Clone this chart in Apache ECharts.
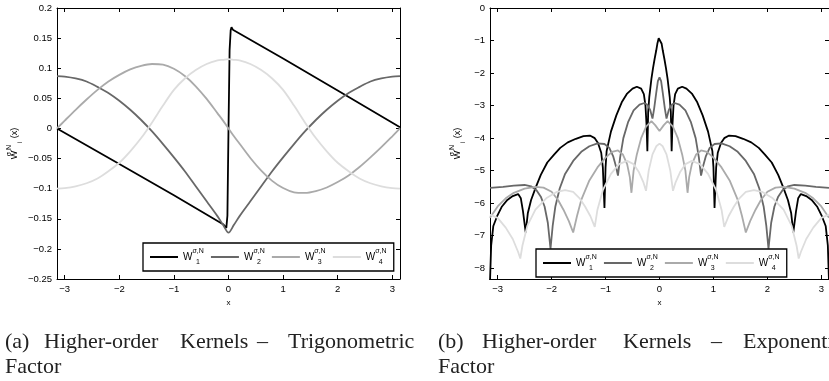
<!DOCTYPE html>
<html>
<head>
<meta charset="utf-8">
<script src="https://cdn.jsdelivr.net/npm/echarts@6/dist/echarts.min.js"></script>
<style>
  html, body { margin: 0; padding: 0; background: #fff; }
  #chart { width: 829px; height: 381px; }
</style>
</head>
<body>
<div id="chart"></div>
<script>
// ---- tick positions ----
const xTicks = [-3, -2, -1, 0, 1, 2, 3];
const trigYTicks = [-0.25, -0.2, -0.15, -0.1, -0.05, 0, 0.05, 0.1, 0.15, 0.2];
const expYTicks = [-8, -7, -6, -5, -4, -3, -2, -1, 0];

// ---- kernel indices shown in the legends ----
const kernelIds = ['1', '2', '3', '4'];

// ---- (a) trigonometric factor ----
const trigX = [-3.1416, -3.0, -2.8, -2.6, -2.4, -2.2, -2.0, -1.8, -1.6, -1.4, -1.2, -1.0, -0.8, -0.6, -0.4, -0.2, -0.1, 0,
               0.1, 0.2, 0.4, 0.6, 0.8, 1.0, 1.2, 1.4, 1.6, 1.8, 2.0, 2.2, 2.4, 2.6, 2.8, 3.0, 3.1416];
const trigW1 = [[-3.1416, 0], [-2.0, -0.059], [-1.0, -0.111], [-0.1, -0.159], [-0.04, -0.165], [-0.02, -0.145],
                [0, 0.0], [0.02, 0.13], [0.04, 0.163], [0.055, 0.168], [0.08, 0.164], [1.0, 0.116], [2.0, 0.063], [3.1416, 0.002]];
const trigW2 = [0.087, 0.086, 0.083, 0.078, 0.069, 0.059, 0.046, 0.031, 0.014, -0.005, -0.026, -0.048, -0.071, -0.096, -0.121, -0.146, -0.160, -0.173,
                -0.160, -0.146, -0.121, -0.096, -0.071, -0.048, -0.026, -0.005, 0.014, 0.031, 0.046, 0.059, 0.069, 0.078, 0.083, 0.086, 0.087];
const trigW3 = [0, 0.013, 0.031, 0.048, 0.064, 0.078, 0.089, 0.098, 0.104, 0.107, 0.106, 0.099, 0.087, 0.070, 0.049, 0.025, 0.013, 0,
                -0.013, -0.025, -0.049, -0.070, -0.087, -0.099, -0.106, -0.107, -0.104, -0.098, -0.089, -0.078, -0.064, -0.048, -0.031, -0.013, 0];
const trigW4 = [-0.100, -0.099, -0.096, -0.091, -0.083, -0.071, -0.057, -0.038, -0.016, 0.010, 0.038, 0.064, 0.083, 0.097, 0.107, 0.113, 0.114, 0.115,
                0.114, 0.113, 0.107, 0.097, 0.083, 0.064, 0.038, 0.010, -0.016, -0.038, -0.057, -0.071, -0.083, -0.091, -0.096, -0.099, -0.100];

// ---- (b) exponential factor (log scale values) ----
const expW1 = [
  [-3.1416, -8.4], [-3.12, -7.3], [-3.08, -6.7], [-3.01, -6.4], [-2.92, -6.1], [-2.82, -5.9], [-2.72, -5.78], [-2.62, -5.72],
  [-2.57, -5.85], [-2.53, -6.25], [-2.48, -6.9], [-2.44, -6.3], [-2.38, -5.9], [-2.29, -5.5], [-2.2, -5.13], [-2.08, -4.75],
  [-1.95, -4.5], [-1.84, -4.3], [-1.7, -4.13], [-1.55, -4.02], [-1.41, -3.94], [-1.29, -3.92], [-1.2, -4.0], [-1.14, -4.15],
  [-1.08, -4.45], [-1.05, -4.9], [-1.02, -6.15], [-1.0, -4.9], [-0.98, -4.4], [-0.9, -3.8], [-0.8, -3.3], [-0.7, -2.9],
  [-0.6, -2.63], [-0.5, -2.48], [-0.42, -2.42], [-0.34, -2.48], [-0.29, -2.65], [-0.26, -3.0], [-0.24, -3.6], [-0.225, -4.4],
  [-0.21, -3.2], [-0.19, -2.75], [-0.15, -2.18], [-0.12, -1.85], [-0.09, -1.56], [-0.06, -1.3], [-0.04, -1.1], [-0.015, -0.93],
  [0.015, -0.93], [0.04, -1.1], [0.06, -1.3], [0.09, -1.56], [0.12, -1.85], [0.15, -2.18], [0.19, -2.75], [0.21, -3.2],
  [0.225, -4.4], [0.24, -3.6], [0.26, -3.0], [0.29, -2.65], [0.34, -2.48], [0.42, -2.42], [0.5, -2.48], [0.6, -2.63],
  [0.7, -2.9], [0.8, -3.3], [0.9, -3.8], [0.98, -4.4], [1.0, -4.9], [1.02, -6.15], [1.05, -4.9], [1.08, -4.45],
  [1.14, -4.15], [1.2, -4.0], [1.29, -3.92], [1.41, -3.94], [1.55, -4.02], [1.7, -4.13], [1.84, -4.3], [1.95, -4.5],
  [2.08, -4.75], [2.2, -5.13], [2.29, -5.5], [2.38, -5.9], [2.44, -6.3], [2.48, -6.9], [2.53, -6.25], [2.57, -5.85],
  [2.62, -5.72], [2.72, -5.78], [2.82, -5.9], [2.92, -6.1], [3.01, -6.4], [3.08, -6.7], [3.12, -7.3], [3.1416, -8.4]
];
const expW2 = [
  [-3.1416, -5.53], [-2.9, -5.5], [-2.7, -5.46], [-2.5, -5.44], [-2.38, -5.48], [-2.28, -5.6], [-2.2, -5.8], [-2.13, -6.1],
  [-2.07, -6.6], [-2.02, -7.4], [-1.98, -6.7], [-1.93, -6.1], [-1.85, -5.55], [-1.75, -5.1], [-1.6, -4.7], [-1.45, -4.42],
  [-1.3, -4.25], [-1.15, -4.16], [-1.02, -4.18], [-0.93, -4.3], [-0.86, -4.55], [-0.81, -4.85], [-0.77, -5.15], [-0.73, -4.6],
  [-0.67, -4.0], [-0.58, -3.5], [-0.48, -3.15], [-0.37, -2.97], [-0.28, -2.92], [-0.22, -2.98], [-0.17, -3.15], [-0.13, -3.4],
  [-0.1, -3.1], [-0.06, -2.6], [-0.03, -2.25], [0, -2.13],
  [0.03, -2.25], [0.06, -2.6], [0.1, -3.1], [0.13, -3.4], [0.17, -3.15], [0.22, -2.98], [0.28, -2.92], [0.37, -2.97],
  [0.48, -3.15], [0.58, -3.5], [0.67, -4.0], [0.73, -4.6], [0.77, -5.15], [0.81, -4.85], [0.86, -4.55], [0.93, -4.3],
  [1.02, -4.18], [1.15, -4.16], [1.3, -4.25], [1.45, -4.42], [1.6, -4.7], [1.75, -5.1], [1.85, -5.55], [1.93, -6.1],
  [1.98, -6.7], [2.02, -7.4], [2.07, -6.6], [2.13, -6.1], [2.2, -5.8], [2.28, -5.6], [2.38, -5.48], [2.5, -5.44],
  [2.7, -5.46], [2.9, -5.5], [3.1416, -5.53]
];
const expW3 = [
  [-3.1416, -6.45], [-3.0, -6.1], [-2.85, -5.85], [-2.7, -5.68], [-2.5, -5.55], [-2.3, -5.5], [-2.15, -5.52], [-2.0, -5.65],
  [-1.88, -5.9], [-1.78, -6.2], [-1.68, -6.55], [-1.6, -6.9], [-1.53, -6.4], [-1.45, -5.9], [-1.3, -5.3], [-1.15, -4.9],
  [-1.0, -4.6], [-0.88, -4.42], [-0.77, -4.38], [-0.68, -4.5], [-0.6, -4.8], [-0.55, -5.2], [-0.52, -5.68], [-0.48, -5.0],
  [-0.42, -4.5], [-0.34, -4.0], [-0.25, -3.65], [-0.15, -3.48], [-0.08, -3.6], [0, -3.78],
  [0.08, -3.6], [0.15, -3.48], [0.25, -3.65], [0.34, -4.0], [0.42, -4.5], [0.48, -5.0], [0.52, -5.68], [0.55, -5.2],
  [0.6, -4.8], [0.68, -4.5], [0.77, -4.38], [0.88, -4.42], [1.0, -4.6], [1.15, -4.9], [1.3, -5.3], [1.45, -5.9],
  [1.53, -6.4], [1.6, -6.9], [1.68, -6.55], [1.78, -6.2], [1.88, -5.9], [2.0, -5.65], [2.15, -5.52], [2.3, -5.5],
  [2.5, -5.55], [2.7, -5.68], [2.85, -5.85], [3.0, -6.1], [3.1416, -6.45]
];
const expW4 = [
  [-3.1416, -6.35], [-3.0, -6.45], [-2.85, -6.75], [-2.72, -7.1], [-2.62, -7.5], [-2.58, -7.7], [-2.54, -7.3], [-2.45, -6.7],
  [-2.3, -6.2], [-2.1, -5.85], [-1.9, -5.65], [-1.75, -5.6], [-1.6, -5.65], [-1.48, -5.85], [-1.38, -6.1], [-1.28, -6.4],
  [-1.2, -6.73], [-1.15, -6.2], [-1.05, -5.6], [-0.9, -5.1], [-0.75, -4.8], [-0.6, -4.7], [-0.48, -4.8], [-0.38, -5.05],
  [-0.3, -5.35], [-0.25, -5.62], [-0.2, -5.0], [-0.13, -4.5], [-0.06, -4.25], [0, -4.17],
  [0.06, -4.25], [0.13, -4.5], [0.2, -5.0], [0.25, -5.62], [0.3, -5.35], [0.38, -5.05], [0.48, -4.8], [0.6, -4.7],
  [0.75, -4.8], [0.9, -5.1], [1.05, -5.6], [1.15, -6.2], [1.2, -6.73], [1.28, -6.4], [1.38, -6.1], [1.48, -5.85],
  [1.6, -5.65], [1.75, -5.6], [1.9, -5.65], [2.1, -5.85], [2.3, -6.2], [2.45, -6.7], [2.54, -7.3], [2.58, -7.7],
  [2.62, -7.5], [2.72, -7.1], [2.85, -6.75], [3.0, -6.45], [3.1416, -6.35]
];

// ---- captions (justified words) ----
const captionA1 = ['(a)', 'Higher-order', 'Kernels', '–', 'Trigonometric'];
const captionB1 = ['(b)', 'Higher-order', 'Kernels', '–', 'Exponential'];
const captionLine2 = 'Factor';

// ---- styling ----
const lineColors = ['#000000', '#686868', '#aaaaaa', '#dddddd'];
const tickFont = 'Liberation Sans, Arial, sans-serif';
const captionFont = '"Liberation Serif", "Times New Roman", serif';

const minusFmt = v => String(v).replace('-', '\u2212');

function scriptRich(mainSize, subWidth) {
  return {
    w:   { fontSize: mainSize, fontFamily: tickFont, color: '#000', lineHeight: 18, verticalAlign: 'middle' },
    sup: { fontSize: 7, fontFamily: tickFont, color: '#000', lineHeight: 9, verticalAlign: 'top', width: 0.5, align: 'left' },
    sub: { fontSize: 7, fontFamily: tickFont, color: '#000', lineHeight: 9, verticalAlign: 'bottom', width: subWidth, align: 'left', padding: [0, 0, 0, 3] }
  };
}
const legendRich = scriptRich(10, 9);
const nameRich = scriptRich(9, 9);

function axesFor(grid, yMin, yMax, yTicks, nameGap) {
  const line = { show: true, onZero: false, lineStyle: { color: '#000', width: 1 } };
  const tick = (vals) => ({ show: true, inside: true, length: 4, customValues: vals, lineStyle: { color: '#000', width: 1 } });
  const lbl = (vals) => ({ show: true, customValues: vals, formatter: minusFmt, color: '#000', fontSize: 9.5, fontFamily: tickFont, margin: 5 });
  return {
    x: [
      { type: 'value', gridIndex: grid, position: 'bottom', min: -Math.PI, max: Math.PI, axisLine: line, axisTick: tick(xTicks), axisLabel: lbl(xTicks), splitLine: { show: false },
        name: 'x', nameLocation: 'middle', nameGap: 12, nameTextStyle: { fontSize: 8, fontFamily: tickFont, color: '#000' } },
      { type: 'value', gridIndex: grid, position: 'top', min: -Math.PI, max: Math.PI, axisLine: line, axisTick: tick(xTicks), axisLabel: { show: false }, splitLine: { show: false } }
    ],
    y: [
      { type: 'value', gridIndex: grid, position: 'left', min: yMin, max: yMax, axisLine: line, axisTick: tick(yTicks), axisLabel: lbl(yTicks), splitLine: { show: false },
        name: '{w|W}{sup|σ,N}{sub|i}{w|(x)}', nameLocation: 'middle', nameGap: nameGap, nameRotate: 90,
        nameTextStyle: { rich: nameRich } },
      { type: 'value', gridIndex: grid, position: 'right', min: yMin, max: yMax, axisLine: line, axisTick: tick(yTicks), axisLabel: { show: false }, splitLine: { show: false } }
    ]
  };
}

const axA = axesFor(0, -0.25, 0.2, trigYTicks, 33);
const axB = axesFor(1, -8.33, 0, expYTicks, 23);

function lineSeries(name, data, axisIdx, color, smooth) {
  return {
    type: 'line', name: name, data: data, xAxisIndex: axisIdx, yAxisIndex: axisIdx,
    symbol: 'none', showSymbol: false, smooth: smooth, clip: true,
    lineStyle: { color: color, width: 1.8 }, itemStyle: { color: color },
    emphasis: { disabled: true }, animation: false
  };
}

const zip = (xs, ys) => xs.map((x, i) => [x, ys[i]]);

const series = [
  lineSeries('W1', trigW1, 0, lineColors[0], false),
  lineSeries('W2', zip(trigX, trigW2), 0, lineColors[1], 0.3),
  lineSeries('W3', zip(trigX, trigW3), 0, lineColors[2], 0.3),
  lineSeries('W4', zip(trigX, trigW4), 0, lineColors[3], 0.3),
  lineSeries('W1', expW1, 2, lineColors[0], false),
  lineSeries('W2', expW2, 2, lineColors[1], false),
  lineSeries('W3', expW3, 2, lineColors[2], false),
  lineSeries('W4', expW4, 2, lineColors[3], false)
];

function legendAt(left, top) {
  return {
    left: left, top: top, orient: 'horizontal',
    padding: [5, 6, 5, 7], itemGap: 6, itemWidth: 28, itemHeight: 2,
    icon: 'rect',
    borderColor: '#000', borderWidth: 1.3, backgroundColor: '#fff',
    data: kernelIds.map(k => ({ name: 'W' + k, icon: 'rect' })),
    formatter: name => '{w|W}{sup|σ,N}{sub|' + name.slice(1) + '}',
    textStyle: { rich: legendRich },
    selectedMode: false
  };
}

const captionWords = [];
function addWords(words, xs, y) {
  words.forEach((w, i) => captionWords.push({
    type: 'text', left: xs[i], top: y, silent: true,
    style: { text: w, font: '22px ' + captionFont, fill: '#222' }
  }));
}
addWords(captionA1, [5, 44, 180, 257, 288], 331);
addWords([captionLine2], [5], 356);
addWords(captionB1, [438, 482, 623, 711, 743], 331);
addWords([captionLine2], [438], 356);

const chart = echarts.init(document.getElementById('chart'), null, { renderer: 'canvas' });
chart.setOption({
  animation: false,
  backgroundColor: '#fff',
  grid: [
    { left: 57, top: 8, width: 343, height: 271, containLabel: false },
    { left: 490, top: 8, width: 346, height: 271, containLabel: false }
  ],
  xAxis: [axA.x[0], axA.x[1], axB.x[0], axB.x[1]],
  yAxis: [axA.y[0], axA.y[1], axB.y[0], axB.y[1]],
  legend: [legendAt(143, 243), legendAt(536, 249)],
  series: series,
  graphic: captionWords
});
</script>
</body>
</html>
